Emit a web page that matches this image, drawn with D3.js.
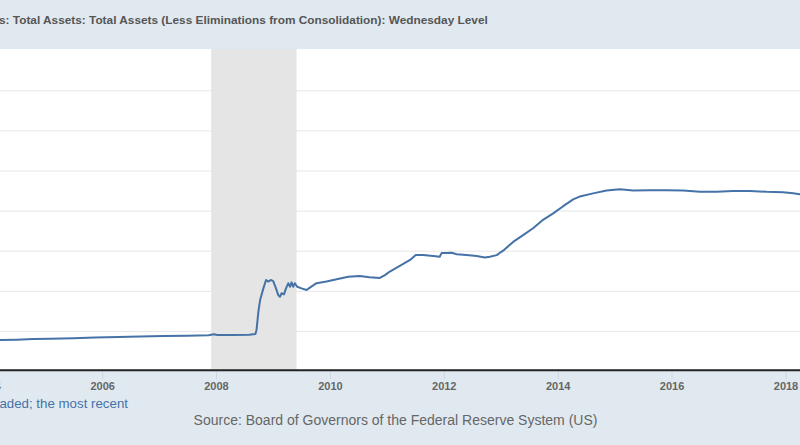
<!DOCTYPE html>
<html><head><meta charset="utf-8">
<script src="https://cdn.jsdelivr.net/npm/d3@7"></script>
<style>
html,body{margin:0;padding:0;background:#e1e9f0;overflow:hidden;}
svg{display:block;font-family:"Liberation Sans",Arial,sans-serif;}
</style>
</head><body>
<svg id="chart" width="800" height="445"></svg>
<script>
// ---- data (millions of US dollars, weekly level) ----
const dates = [
"2004-03-15","2004-07-01","2004-10-15","2005-02-01","2005-07-01","2005-11-15","2006-04-15","2006-09-01",
"2007-02-01","2007-07-01","2007-11-15","2007-12-19","2008-01-09","2008-04-15","2008-08-01","2008-09-10",
"2008-09-17","2008-09-29","2008-10-10","2008-10-31","2008-11-17","2008-12-02","2008-12-17","2009-01-02",
"2009-01-20","2009-02-03","2009-02-14","2009-02-25","2009-03-12","2009-03-25","2009-04-09","2009-04-20",
"2009-04-30","2009-05-10","2009-05-21","2009-06-05","2009-07-03","2009-08-04","2009-08-25","2009-10-07",
"2009-12-10","2010-02-13","2010-04-28","2010-07-12","2010-09-12","2010-11-17","2010-12-20","2011-01-20",
"2011-03-25","2011-05-30","2011-07-05","2011-08-22","2011-10-25","2011-12-06","2011-12-18","2012-01-18",
"2012-02-20","2012-03-24","2012-05-26","2012-07-30","2012-09-20","2012-10-23","2012-12-06","2012-12-27",
"2013-01-16","2013-03-21","2013-05-24","2013-07-27","2013-09-29","2013-12-03","2014-02-05","2014-04-10",
"2014-05-22","2014-08-16","2014-11-10","2015-02-03","2015-04-30","2015-08-14","2015-11-30","2016-03-16",
"2016-07-01","2016-10-16","2017-01-29","2017-05-18","2017-09-02","2017-12-16","2018-02-19","2018-04-03",
"2018-05-16"
];
const values = [
772000,781000,795000,805000,816000,835000,848000,858000,
870000,880000,893000,915000,898000,895000,905000,925000,
1020000,1480000,1770000,2060000,2270000,2230000,2270000,2240000,
2060000,1900000,1850000,1940000,1910000,2060000,2190000,2100000,
2210000,2100000,2190000,2100000,2060000,2020000,2080000,2190000,
2230000,2290000,2350000,2370000,2340000,2320000,2390000,2480000,
2620000,2770000,2890000,2890000,2870000,2850000,2940000,2940000,
2950000,2910000,2890000,2870000,2830000,2850000,2890000,2950000,
3000000,3220000,3390000,3560000,3770000,3930000,4110000,4280000,
4350000,4430000,4500000,4530000,4500000,4510000,4510000,4500000,
4470000,4470000,4490000,4490000,4470000,4460000,4430000,4410000,
4380000
];
const xTickYears = [2004, 2006, 2008, 2010, 2012, 2014, 2016, 2018];
const yGridValues = [1000000, 2000000, 3000000, 4000000, 5000000, 6000000, 7000000];
const recessionStart = "2007-12-01";
const recessionEnd = "2009-06-01";
const titleText = "s: Total Assets: Total Assets (Less Eliminations from Consolidation): Wednesday Level";
const noteText = "aded; the most recent";
const sourceText = "Source: Board of Governors of the Federal Reserve System (US)";

// ---- drawing ----
const W = 800, H = 445;
const plotTop = 49, plotBottom = 370;
const parse = d3.utcParse("%Y-%m-%d");
const svg = d3.select("#chart");

svg.append("rect").attr("width", W).attr("height", H).attr("fill", "#e1e9f0");

const x = d3.scaleUtc()
  .domain([new Date(Date.UTC(2004,0,1)), new Date(Date.UTC(2018,0,1))])
  .range([-11.8, 785.5]);
const y = d3.scaleLinear().domain([0, 8000000]).range([371, 50.2]);

// plot area
svg.append("rect").attr("x", 0).attr("y", plotTop).attr("width", W).attr("height", plotBottom - plotTop).attr("fill", "#ffffff");

svg.append("clipPath").attr("id", "plotclip")
  .append("rect").attr("x", 0).attr("y", plotTop).attr("width", W).attr("height", plotBottom - plotTop);

// recession band
svg.append("rect")
  .attr("x", x(parse(recessionStart)))
  .attr("y", plotTop)
  .attr("width", x(parse(recessionEnd)) - x(parse(recessionStart)))
  .attr("height", plotBottom - plotTop)
  .attr("fill", "#e5e5e5");

// gridlines
const grid = svg.append("g").attr("transform", "translate(0,0)")
  .call(d3.axisLeft(y).tickValues(yGridValues).tickSize(-W).tickFormat(""));
grid.select(".domain").remove();
grid.selectAll("line").attr("stroke", "#e6e6e6").attr("stroke-width", 1);

// line
const series = dates.map((d, i) => ({date: parse(d), value: values[i]}));
svg.append("path")
  .datum(series)
  .attr("clip-path", "url(#plotclip)")
  .attr("fill", "none")
  .attr("stroke", "#4572a7")
  .attr("stroke-width", 2)
  .attr("stroke-linejoin", "round")
  .attr("d", d3.line().x(d => x(d.date)).y(d => y(d.value)));

// x axis
const xAxis = svg.append("g").attr("transform", `translate(0,${plotBottom})`)
  .call(d3.axisBottom(x)
    .tickValues(xTickYears.map(yr => new Date(Date.UTC(yr,0,1))))
    .tickSize(9).tickPadding(3)
    .tickFormat(d3.utcFormat("%Y")));
xAxis.select(".domain").remove();
xAxis.selectAll("line").attr("stroke", "#ccd6eb");
xAxis.selectAll("text").attr("fill", "#666666").attr("font-size", "11px").attr("font-weight", "bold")
  .attr("font-family", "'Liberation Sans',Arial,sans-serif");

svg.append("line").attr("x1", 0).attr("x2", W).attr("y1", plotBottom + 0.2).attr("y2", plotBottom + 0.2)
  .attr("stroke", "#222").attr("stroke-width", 2);

// title
const title = svg.append("text").attr("x", -1).attr("y", 24)
  .attr("font-size", "12px").attr("font-weight", "bold").attr("fill", "#555555")
  .text(titleText);
const tl = title.node().getComputedTextLength();
title.attr("font-size", (12 * 489 / tl).toFixed(2) + "px");

// note
svg.append("text").attr("x", 128).attr("y", 407.5).attr("text-anchor", "end")
  .attr("font-size", "13.3px").attr("fill", "#4572a7").text(noteText);

// source
svg.append("text").attr("x", 395.5).attr("y", 425).attr("text-anchor", "middle")
  .attr("font-size", "14px").attr("fill", "#666666").text(sourceText);
</script>
</body></html>
